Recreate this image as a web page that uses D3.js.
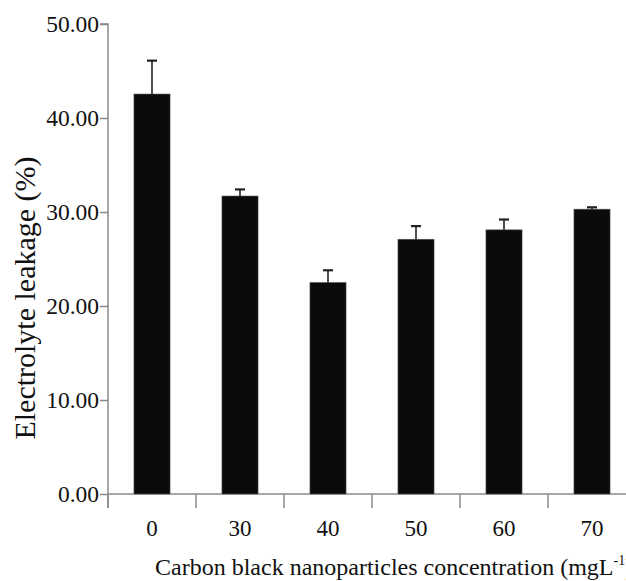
<!DOCTYPE html>
<html>
<head>
<meta charset="utf-8">
<script src="https://cdn.jsdelivr.net/npm/d3@7"></script>
<style>
  body { margin: 0; background: #fff; }
  svg { display: block; }
  text { font-family: "Liberation Serif", "Times New Roman", serif; }
</style>
</head>
<body>
<svg id="chart" width="626" height="581"></svg>
<script>
// data
var categories = ["0", "30", "40", "50", "60", "70"];
var leakage = [42.55, 31.7, 22.5, 27.1, 28.1, 30.3];
var errUpper = [46.1, 32.4, 23.8, 28.5, 29.2, 30.5];
var yTicks = [0, 10, 20, 30, 40, 50];

var serif = "Liberation Serif";
var svg = d3.select("#chart").attr("font-family", serif);

// ---- scales ----
var x = d3.scaleBand()
    .domain(categories)
    .range([108, 636])
    .paddingInner(0.59)
    .paddingOuter(0.295);

var y = d3.scaleLinear()
    .domain([0, 50])
    .range([494, 24]);

var axisColor = "#8a8a8a";

// ---- y axis ----
var yAxis = svg.append("g")
    .attr("transform", "translate(108,0)")
    .call(d3.axisLeft(y).tickValues(yTicks).tickFormat(d3.format(".2f")).tickSize(8).tickPadding(1));
yAxis.attr("font-family", serif).attr("font-size", 23.5);
yAxis.select(".domain").attr("stroke", axisColor).attr("stroke-width", 1.5).attr("d", "M-8,24H0V508");
yAxis.selectAll(".tick line").attr("stroke", axisColor).attr("stroke-width", 1.5);
yAxis.selectAll(".tick text")
    .attr("fill", "#111")
    .style("font-size", "23.5px");

// ---- x axis (line + dividers between bands) ----
var step = x.step();
var boundaries = categories.map(function(c) { return x(c) + x.bandwidth() / 2 - step / 2; });
boundaries.push(x(categories[categories.length - 1]) + x.bandwidth() / 2 + step / 2);

svg.append("line")
    .attr("x1", 108).attr("x2", 636)
    .attr("y1", y(0)).attr("y2", y(0))
    .attr("stroke", axisColor).attr("stroke-width", 1.5);

svg.selectAll(".divider")
    .data(boundaries)
    .enter().append("line")
    .attr("class", "divider")
    .attr("x1", function(d) { return d; }).attr("x2", function(d) { return d; })
    .attr("y1", y(0)).attr("y2", y(0) + 14)
    .attr("stroke", axisColor).attr("stroke-width", 1.5);

svg.selectAll(".xlabel")
    .data(categories)
    .enter().append("text")
    .attr("class", "xlabel")
    .attr("x", function(d) { return x(d) + x.bandwidth() / 2; })
    .attr("y", 536)
    .attr("text-anchor", "middle")
    .attr("fill", "#111")
    .style("font-size", "23px")
    .text(function(d) { return d; });

// ---- bars ----
svg.selectAll(".bar")
    .data(leakage)
    .enter().append("rect")
    .attr("class", "bar")
    .attr("x", function(d, i) { return x(categories[i]); })
    .attr("width", x.bandwidth())
    .attr("y", function(d) { return y(d); })
    .attr("height", function(d) { return y(0) - y(d); })
    .attr("fill", "#0a0a0c")
    .attr("stroke", "#555")
    .attr("stroke-width", 0.6);

// ---- error bars (upper only) ----
var err = svg.append("g").attr("stroke", "#222");
err.selectAll(".ebar")
    .data(errUpper)
    .enter().append("line")
    .attr("x1", function(d, i) { return x(categories[i]) + x.bandwidth() / 2; })
    .attr("x2", function(d, i) { return x(categories[i]) + x.bandwidth() / 2; })
    .attr("y1", function(d, i) { return y(leakage[i]); })
    .attr("y2", function(d) { return y(d); })
    .attr("stroke-width", 1.6);
err.selectAll(".ecap")
    .data(errUpper)
    .enter().append("line")
    .attr("x1", function(d, i) { return x(categories[i]) + x.bandwidth() / 2 - 5; })
    .attr("x2", function(d, i) { return x(categories[i]) + x.bandwidth() / 2 + 5; })
    .attr("y1", function(d) { return y(d); })
    .attr("y2", function(d) { return y(d); })
    .attr("stroke-width", 2.2);

// ---- titles ----
var xTitle = svg.append("text")
    .attr("x", 155)
    .attr("y", 575)
    .attr("fill", "#111")
    .style("font-size", "24px");
xTitle.append("tspan").text("Carbon black nanoparticles concentration (mgL");
xTitle.append("tspan").attr("dy", -10).style("font-size", "14px").text("-1");
xTitle.append("tspan").attr("dy", 10).text(")");

svg.append("text")
    .attr("transform", "translate(35,298) rotate(-90)")
    .attr("text-anchor", "middle")
    .attr("fill", "#111")
    .style("font-size", "30px")
    .text("Electrolyte leakage (%)");
</script>
</body>
</html>
